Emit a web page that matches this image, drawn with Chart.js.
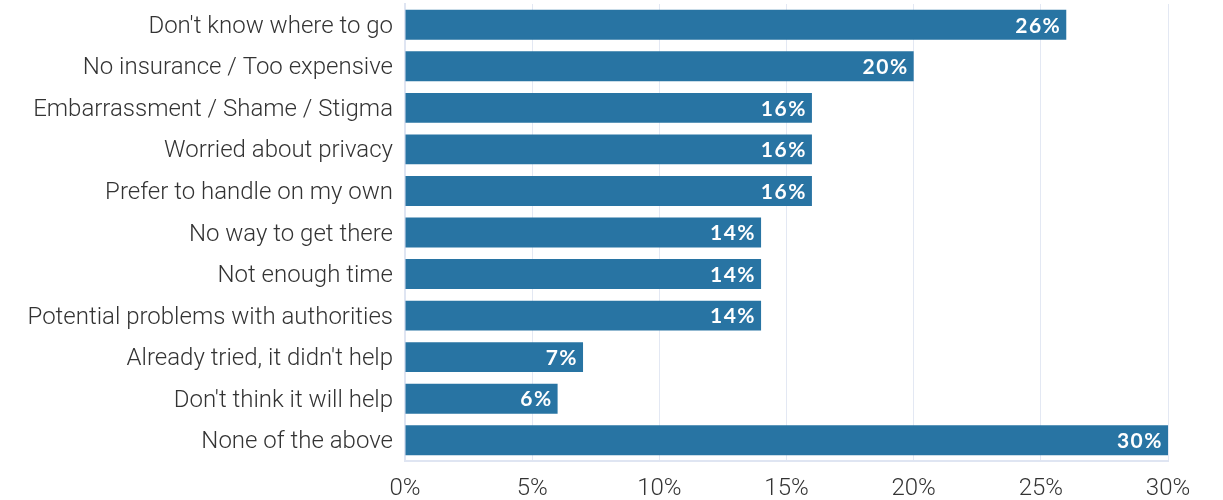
<!DOCTYPE html>
<html>
<head>
<meta charset="utf-8">
<script src="https://cdn.jsdelivr.net/npm/chart.js@4"></script>
<style>
html,body{margin:0;padding:0;background:#fff;}
#wrap{width:1223px;height:500px;position:relative;}
</style>
</head>
<body>
<div id="wrap"><canvas id="c" width="1223" height="500"></canvas></div>
<script>
const categories = [
  "Don't know where to go",
  "No insurance / Too expensive",
  "Embarrassment / Shame / Stigma",
  "Worried about privacy",
  "Prefer to handle on my own",
  "No way to get there",
  "Not enough time",
  "Potential problems with authorities",
  "Already tried, it didn't help",
  "Don't think it will help",
  "None of the above"
];
const values = [26, 20, 16, 16, 16, 14, 14, 14, 7, 6, 30];
const xTicks = [0, 5, 10, 15, 20, 25, 30];

const valueLabels = {
  id: 'valueLabels',
  afterDatasetsDraw(chart) {
    const ctx = chart.ctx;
    const meta = chart.getDatasetMeta(0);
    ctx.save();
    ctx.fillStyle = '#ffffff';
    ctx.font = 'bold 21px Lato';
    try { ctx.letterSpacing = '1.5px'; } catch (e) {}
    ctx.textAlign = 'right';
    ctx.textBaseline = 'middle';
    meta.data.forEach((bar, i) => {
      ctx.fillText(values[i] + '%', bar.x - 5, bar.y + 1);
    });
    ctx.restore();
  }
};

new Chart(document.getElementById('c'), {
  type: 'bar',
  data: {
    labels: categories,
    datasets: [{
      data: values,
      backgroundColor: '#2874a3',
      borderWidth: 0,
      barPercentage: 0.72,
      categoryPercentage: 1.0
    }]
  },
  options: {
    indexAxis: 'y',
    responsive: false,
    animation: false,
    devicePixelRatio: 1,
    layout: { padding: { top: 4, right: 55, left: 0, bottom: 0 } },
    plugins: { legend: { display: false }, tooltip: { enabled: false } },
    scales: {
      x: {
        min: 0, max: 30,
        afterBuildTicks(axis) { axis.ticks = xTicks.map(v => ({ value: v })); },
        ticks: {
          callback: v => v + '%',
          color: '#333',
          font: { family: 'Roboto', size: 24, weight: 300 },
          padding: 14
        },
        grid: { color: '#e3e8f3', lineWidth: 1, drawTicks: false },
        border: { color: '#dfe5f2', width: 2 },
        afterFit(axis) { axis.height = 39; }
      },
      y: {
        ticks: {
          color: '#333',
          font: { family: 'Roboto', size: 24, weight: 300 },
          padding: 12,
          labelOffset: 2
        },
        grid: { display: false, drawTicks: false },
        border: { color: '#dfe5f2', width: 2 },
        afterFit(axis) { axis.width = 405; axis.paddingTop = 0; axis.paddingBottom = 0; }
      }
    }
  },
  plugins: [valueLabels]
});
</script>
</body>
</html>
